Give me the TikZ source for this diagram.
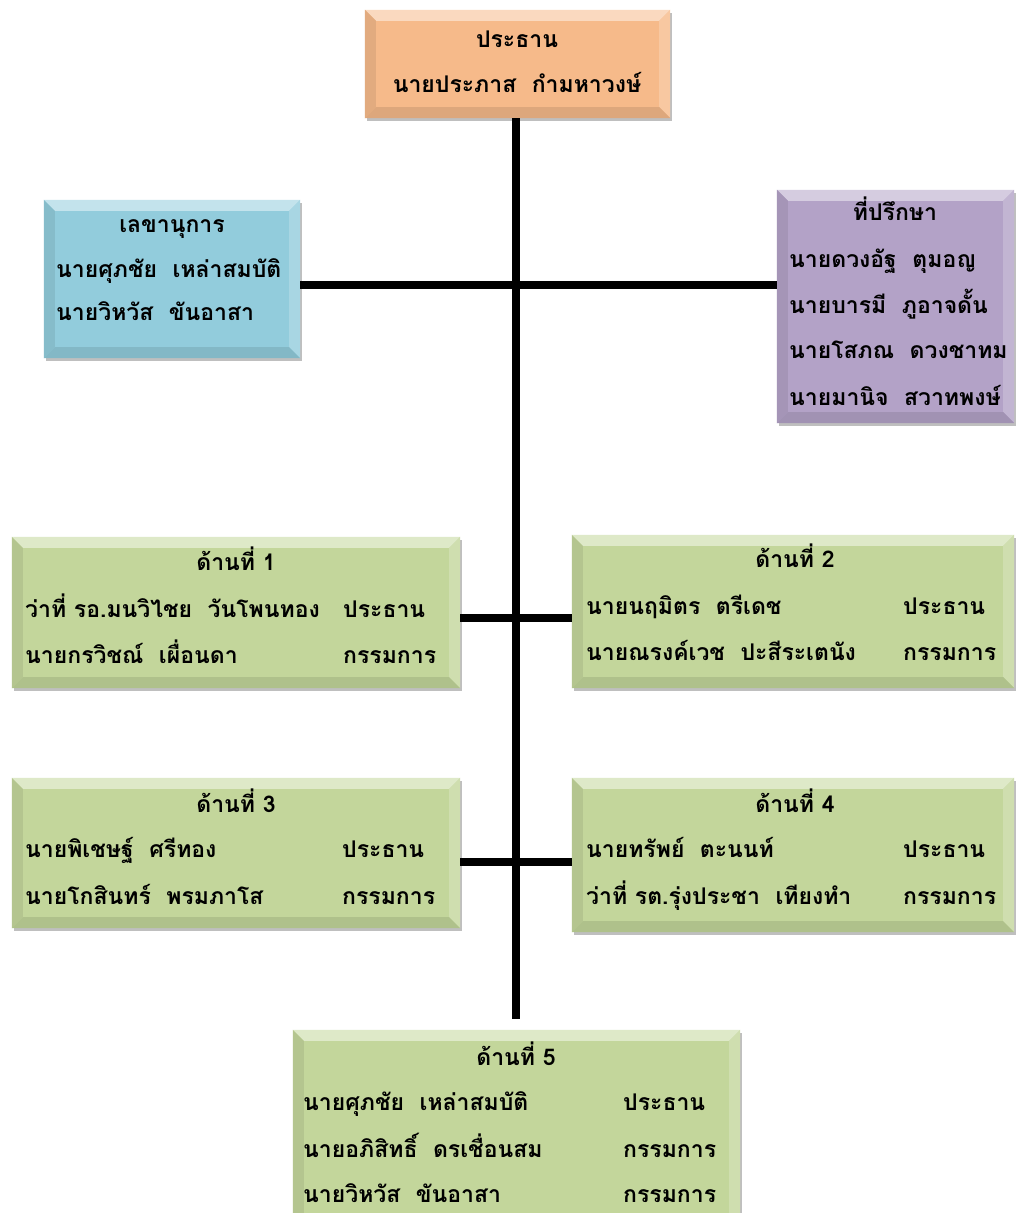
\documentclass[tikz,border=0pt]{standalone}
\usepackage{fontspec}
\newfontfamily\thai[Script=Thai]{Loma}
\usetikzlibrary{shadows}
\definecolor{cOrange}{RGB}{246,186,138}
\definecolor{cBlue}{RGB}{146,204,220}
\definecolor{cPurple}{RGB}{179,162,199}
\definecolor{cGreen}{RGB}{195,214,155}
\newlength\bv \setlength\bv{11pt}
\newcommand\bevel[2]{%
  \fill[#2!55!white] (#1.north west) -- (#1.north east) -- ([xshift=-\bv,yshift=-\bv]#1.north east) -- ([xshift=\bv,yshift=-\bv]#1.north west) -- cycle;
  \fill[#2!92!black] (#1.north west) -- ([xshift=\bv,yshift=-\bv]#1.north west) -- ([xshift=\bv,yshift=\bv]#1.south west) -- (#1.south west) -- cycle;
  \fill[#2!80!white] (#1.north east) -- ([xshift=-\bv,yshift=-\bv]#1.north east) -- ([xshift=-\bv,yshift=\bv]#1.south east) -- (#1.south east) -- cycle;
  \fill[#2!90!black] (#1.south west) -- ([xshift=\bv,yshift=\bv]#1.south west) -- ([xshift=-\bv,yshift=\bv]#1.south east) -- (#1.south east) -- cycle;
}
\tikzset{
  box/.style={rectangle, inner sep=0pt, draw=none, drop shadow={shadow xshift=2pt, shadow yshift=-3pt, fill=black, opacity=0.25}},
  conn/.style={line width=7.5pt, black},
  txt/.style={font=\thai\bfseries\fontsize{23}{27}\selectfont, inner sep=0pt, text=black},
}
\begin{document}
\begin{tikzpicture}[x=1pt,y=-1pt]
\path[use as bounding box, clip] (0,0) rectangle (1016,1213);
\fill[white] (0,0) rectangle (1016,1213);
% boxes
\node[box, fill=cOrange, minimum width=305pt, minimum height=108pt] (top) at (517.5,64) {};
\node[box, fill=cBlue, minimum width=256pt, minimum height=158pt] (sec) at (172,279) {};
\node[box, fill=cPurple, minimum width=237pt, minimum height=233pt] (adv) at (895.5,306.5) {};
\node[box, fill=cGreen, minimum width=448pt, minimum height=151pt] (s1) at (236,612.5) {};
\node[box, fill=cGreen, minimum width=442pt, minimum height=153pt] (s2) at (793,611.5) {};
\node[box, fill=cGreen, minimum width=448pt, minimum height=150pt] (s3) at (236,853) {};
\node[box, fill=cGreen, minimum width=442pt, minimum height=154pt] (s4) at (793,855) {};
\node[box, fill=cGreen, minimum width=447pt, minimum height=200pt] (s5) at (516.5,1130) {};
\bevel{top}{cOrange}
\bevel{sec}{cBlue}
\bevel{adv}{cPurple}
\bevel{s1}{cGreen}
\bevel{s2}{cGreen}
\bevel{s3}{cGreen}
\bevel{s4}{cGreen}
\bevel{s5}{cGreen}
% connectors
\coordinate (vend) at (516,1019);
\draw[conn] (top.south -| vend) -- (vend);
\draw[conn] ([yshift=-6pt]sec.east) -- ([yshift=21.5pt]adv.west);
\draw[conn] ([yshift=-5.5pt]s1.east) -- ([yshift=-6.5pt]s2.west);
\draw[conn] ([yshift=-9pt]s3.east) -- ([yshift=-7pt]s4.west);
% texts
\node[txt, anchor=base] (t0) at (517,47) {ประธาน};
\node[txt, anchor=base] (t1) at (517,92) {นายประภาส\ \ กำมหาวงษ์};
\node[txt, anchor=base] (sec0) at (172,232) {เลขานุการ};
\node[txt, anchor=base west] (sec1) at (56,277) {นายศุภชัย\ \ เหล่าสมบัติ};
\node[txt, anchor=base west] (sec2) at (56,320) {นายวิหวัส\ \ ขันอาสา};
\node[txt, anchor=base] (adv0) at (895,220) {ที่ปรึกษา};
\node[txt, anchor=base west] (adv1) at (789,267) {นายดวงอัฐ\ \ ตุมอญ};
\node[txt, anchor=base west] (adv2) at (789,313) {นายบารมี\ \ ภูอาจดั้น};
\node[txt, anchor=base west] (adv3) at (789,358) {นายโสภณ\ \ ดวงชาทม};
\node[txt, anchor=base west] (adv4) at (789,405) {นายมานิจ\ \ สวาทพงษ์};
% side 1
\node[txt, anchor=base] (a0) at (236,570) {ด้านที่ 1};
\node[txt, anchor=base west] (a1) at (25,617) {ว่าที่ รอ.มนวิไชย\ \ วันโพนทอง};
\node[txt, anchor=base west] (a1r) at (343,617) {ประธาน};
\node[txt, anchor=base west] (a2) at (25,663) {นายกรวิชณ์\ \ เผื่อนดา};
\node[txt, anchor=base west] (a2r) at (343,663) {กรรมการ};
% side 2
\node[txt, anchor=base] (b0) at (795,567) {ด้านที่ 2};
\node[txt, anchor=base west] (b1) at (586,614) {นายนฤมิตร\ \ ตรีเดช};
\node[txt, anchor=base west] (b1r) at (903,614) {ประธาน};
\node[txt, anchor=base west] (b2) at (586,660) {นายณรงค์เวช\ \ ปะสีระเตนัง};
\node[txt, anchor=base west] (b2r) at (903,660) {กรรมการ};
% side 3
\node[txt, anchor=base] (c0) at (236,812) {ด้านที่ 3};
\node[txt, anchor=base west] (c1) at (25,857) {นายพิเชษฐ์\ \ ศรีทอง};
\node[txt, anchor=base west] (c1r) at (342,857) {ประธาน};
\node[txt, anchor=base west] (c2) at (25,904) {นายโกสินทร์\ \ พรมภาโส};
\node[txt, anchor=base west] (c2r) at (342,904) {กรรมการ};
% side 4
\node[txt, anchor=base] (d0) at (795,812) {ด้านที่ 4};
\node[txt, anchor=base west] (d1) at (586,857) {นายทรัพย์\ \ ตะนนท์};
\node[txt, anchor=base west] (d1r) at (903,857) {ประธาน};
\node[txt, anchor=base west] (d2) at (586,904) {ว่าที่ รต.รุ่งประชา\ \ เทียงทำ};
\node[txt, anchor=base west] (d2r) at (903,904) {กรรมการ};
% side 5
\node[txt, anchor=base] (e0) at (516,1065) {ด้านที่ 5};
\node[txt, anchor=base west] (e1) at (303,1110) {นายศุภชัย\ \ เหล่าสมบัติ};
\node[txt, anchor=base west] (e1r) at (623,1110) {ประธาน};
\node[txt, anchor=base west] (e2) at (303,1157) {นายอภิสิทธิ์\ \ ดรเชื่อนสม};
\node[txt, anchor=base west] (e2r) at (623,1157) {กรรมการ};
\node[txt, anchor=base west] (e3) at (303,1202) {นายวิหวัส\ \ ขันอาสา};
\node[txt, anchor=base west] (e3r) at (623,1202) {กรรมการ};
\end{tikzpicture}
\end{document}
